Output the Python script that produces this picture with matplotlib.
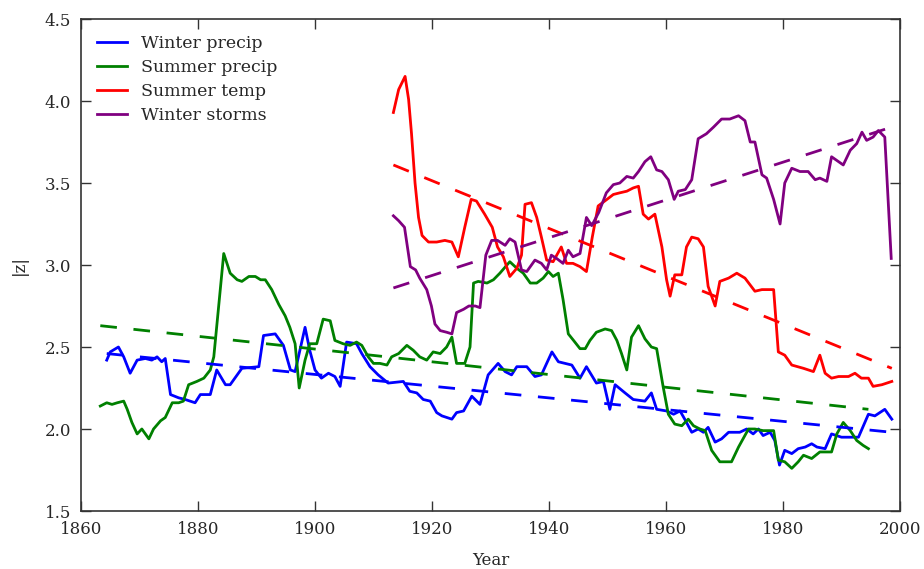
import matplotlib
matplotlib.use("Agg")
import matplotlib.pyplot as plt

# ---- data ----
winter_precip_years = [1864.4, 1865.0, 1866.4, 1867.3, 1868.4, 1869.6, 1871.0, 1872.1, 1873.0, 1873.8,
                       1874.4, 1875.3, 1876.7, 1877.8, 1879.5, 1880.4, 1882.1, 1883.2, 1884.7, 1885.5,
                       1887.5, 1890.4, 1891.2, 1893.2, 1894.6, 1895.8, 1896.6, 1898.3, 1899.1, 1900.0,
                       1901.1, 1902.3, 1903.4, 1904.3, 1905.4, 1907.1, 1908.0, 1909.4, 1910.8, 1912.5,
                       1915.1, 1916.2, 1917.4, 1918.5, 1919.7, 1920.8, 1921.7, 1923.4, 1924.2, 1925.4,
                       1926.8, 1928.2, 1929.6, 1931.3, 1932.5, 1933.6, 1934.5, 1936.2, 1937.6, 1938.7,
                       1940.5, 1941.6, 1943.9, 1945.3, 1946.4, 1948.1, 1949.3, 1950.4, 1951.3, 1953.0,
                       1954.4, 1956.4, 1957.5, 1958.4, 1960.1, 1961.3, 1962.4, 1963.2, 1964.4, 1965.5,
                       1966.4, 1967.2, 1968.4, 1969.5, 1970.7, 1972.6, 1973.8, 1974.9, 1975.8, 1976.6,
                       1977.8, 1978.6, 1979.4, 1980.3, 1981.5, 1982.6, 1983.8, 1984.9, 1985.8, 1987.2,
                       1988.3, 1990.0, 1991.7, 1992.9, 1994.6, 1995.7, 1997.4, 1998.6]
winter_precip = [2.42, 2.47, 2.50, 2.44, 2.34, 2.42, 2.43, 2.42, 2.44, 2.41,
                 2.43, 2.21, 2.19, 2.18, 2.16, 2.21, 2.21, 2.36, 2.27, 2.27,
                 2.37, 2.38, 2.57, 2.58, 2.51, 2.36, 2.35, 2.62, 2.48, 2.36,
                 2.31, 2.34, 2.32, 2.26, 2.53, 2.52, 2.46, 2.38, 2.33, 2.28,
                 2.29, 2.23, 2.22, 2.18, 2.17, 2.10, 2.08, 2.06, 2.10, 2.11,
                 2.20, 2.15, 2.33, 2.40, 2.35, 2.33, 2.38, 2.38, 2.32, 2.33,
                 2.47, 2.41, 2.39, 2.31, 2.38, 2.28, 2.29, 2.12, 2.27, 2.22,
                 2.18, 2.17, 2.22, 2.12, 2.11, 2.09, 2.11, 2.06, 1.98, 2.00,
                 1.98, 2.01, 1.92, 1.94, 1.98, 1.98, 2.00, 1.97, 2.00, 1.96,
                 1.98, 1.93, 1.78, 1.87, 1.85, 1.88, 1.89, 1.91, 1.89, 1.88,
                 1.97, 1.95, 1.95, 1.95, 2.09, 2.08, 2.12, 2.06]

summer_precip_years = [1863.3, 1864.4, 1865.3, 1866.2, 1867.3, 1867.9, 1868.7, 1869.6, 1870.4, 1871.6,
                       1872.4, 1873.6, 1874.4, 1875.6, 1876.7, 1877.5, 1878.4, 1879.8, 1881.0, 1882.1,
                       1882.7, 1884.4, 1885.5, 1886.7, 1887.5, 1888.7, 1889.8, 1890.7, 1891.5, 1892.6,
                       1893.8, 1894.9, 1895.7, 1896.6, 1897.3, 1898.3, 1899.1, 1900.3, 1901.4, 1902.6,
                       1903.4, 1904.8, 1906.0, 1907.1, 1908.0, 1909.1, 1910.0, 1911.1, 1912.3, 1913.1,
                       1914.3, 1915.7, 1916.8, 1917.9, 1919.1, 1920.2, 1921.4, 1922.5, 1923.4, 1924.2,
                       1925.6, 1926.5, 1927.1, 1927.9, 1929.4, 1930.5, 1931.6, 1933.3, 1934.5, 1935.6,
                       1936.8, 1937.9, 1939.0, 1939.9, 1940.7, 1941.6, 1942.4, 1943.3, 1944.2, 1945.3,
                       1946.2, 1947.0, 1948.1, 1949.6, 1950.7, 1951.6, 1952.4, 1953.3, 1954.1, 1955.3,
                       1956.4, 1957.5, 1958.4, 1959.5, 1960.4, 1961.5, 1962.7, 1963.8, 1964.7, 1965.8,
                       1966.7, 1967.8, 1969.2, 1971.2, 1972.4, 1974.1, 1975.2, 1976.6, 1978.4, 1979.2,
                       1980.3, 1981.5, 1982.6, 1983.5, 1984.9, 1986.3, 1988.3, 1989.2, 1990.3, 1991.5,
                       1992.6, 1993.7, 1994.6]
summer_precip = [2.14, 2.16, 2.15, 2.16, 2.17, 2.12, 2.04, 1.97, 2.00, 1.94,
                 2.00, 2.05, 2.07, 2.16, 2.16, 2.17, 2.27, 2.29, 2.31, 2.36,
                 2.44, 3.07, 2.95, 2.91, 2.90, 2.93, 2.93, 2.91, 2.91, 2.85,
                 2.76, 2.69, 2.62, 2.52, 2.25, 2.42, 2.52, 2.52, 2.67, 2.66,
                 2.54, 2.52, 2.51, 2.53, 2.51, 2.44, 2.40, 2.40, 2.39, 2.44,
                 2.46, 2.51, 2.48, 2.44, 2.42, 2.47, 2.46, 2.50, 2.56, 2.40,
                 2.40, 2.50, 2.89, 2.90, 2.89, 2.91, 2.95, 3.02, 2.98, 2.95,
                 2.89, 2.89, 2.92, 2.96, 2.93, 2.95, 2.79, 2.58, 2.54, 2.49,
                 2.49, 2.54, 2.59, 2.61, 2.60, 2.54, 2.46, 2.36, 2.56, 2.63,
                 2.55, 2.50, 2.49, 2.26, 2.09, 2.03, 2.02, 2.06, 2.02, 2.00,
                 1.99, 1.87, 1.80, 1.80, 1.89, 2.00, 2.00, 1.99, 1.99, 1.81,
                 1.80, 1.76, 1.80, 1.84, 1.82, 1.86, 1.86, 1.97, 2.04, 1.99,
                 1.93, 1.90, 1.88]

summer_temp_years = [1913.4, 1914.3, 1915.4, 1916.0, 1916.5, 1917.1, 1917.7, 1918.3, 1919.4, 1920.8,
                     1922.2, 1923.4, 1924.5, 1925.6, 1926.7, 1927.6, 1929.0, 1930.3, 1931.2, 1932.2,
                     1933.3, 1934.5, 1935.3, 1935.9, 1937.0, 1937.9, 1938.7, 1939.6, 1940.7, 1942.1,
                     1943.0, 1944.1, 1945.3, 1946.4, 1947.4, 1948.4, 1949.9, 1951.0, 1952.1, 1953.3,
                     1954.4, 1955.3, 1956.1, 1957.0, 1958.1, 1959.3, 1960.1, 1960.7, 1961.5, 1962.7,
                     1963.5, 1964.4, 1965.5, 1966.4, 1967.2, 1968.4, 1969.2, 1970.7, 1972.1, 1973.5,
                     1975.2, 1976.4, 1978.4, 1979.2, 1980.3, 1981.5, 1983.5, 1985.2, 1986.3, 1987.2,
                     1988.3, 1989.5, 1991.2, 1992.3, 1993.4, 1994.6, 1995.4, 1996.9, 1998.6]
summer_temp = [3.93, 4.07, 4.15, 4.01, 3.80, 3.50, 3.29, 3.18, 3.14, 3.14,
               3.15, 3.14, 3.05, 3.23, 3.40, 3.39, 3.31, 3.23, 3.11, 3.05,
               2.93, 2.98, 3.06, 3.37, 3.38, 3.29, 3.17, 3.03, 3.02, 3.11,
               3.01, 3.01, 2.99, 2.96, 3.17, 3.36, 3.40, 3.43, 3.44, 3.45,
               3.47, 3.48, 3.31, 3.28, 3.31, 3.11, 2.91, 2.81, 2.94, 2.94,
               3.11, 3.17, 3.16, 3.11, 2.87, 2.75, 2.90, 2.92, 2.95, 2.92,
               2.84, 2.85, 2.85, 2.47, 2.45, 2.39, 2.37, 2.35, 2.45, 2.34,
               2.31, 2.32, 2.32, 2.34, 2.31, 2.31, 2.26, 2.27, 2.29]

winter_storms_years = [1913.4, 1914.3, 1915.3, 1916.3, 1917.2, 1917.9, 1919.1, 1919.9, 1920.5, 1921.4,
                       1922.5, 1923.4, 1924.2, 1925.4, 1926.3, 1927.4, 1928.2, 1929.2, 1930.2, 1931.2,
                       1932.5, 1933.3, 1934.2, 1935.3, 1936.2, 1937.6, 1938.7, 1939.6, 1940.4, 1941.3,
                       1942.4, 1943.3, 1944.1, 1945.3, 1946.4, 1947.3, 1948.5, 1949.8, 1951.0, 1952.1,
                       1953.3, 1954.4, 1955.3, 1956.4, 1957.4, 1958.4, 1959.3, 1960.4, 1961.4, 1962.1,
                       1963.3, 1964.4, 1965.5, 1966.9, 1968.1, 1969.5, 1970.9, 1972.4, 1973.5, 1974.4,
                       1975.2, 1976.4, 1977.2, 1978.4, 1979.5, 1980.3, 1981.5, 1982.9, 1984.3, 1985.5,
                       1986.3, 1987.5, 1988.3, 1989.5, 1990.3, 1991.5, 1992.6, 1993.5, 1994.3, 1995.4,
                       1996.3, 1997.4, 1998.5]
winter_storms = [3.30, 3.27, 3.23, 2.99, 2.97, 2.92, 2.85, 2.75, 2.64, 2.60,
                 2.59, 2.58, 2.71, 2.73, 2.75, 2.75, 2.74, 3.06, 3.15, 3.15,
                 3.12, 3.16, 3.14, 2.97, 2.96, 3.03, 3.01, 2.97, 3.06, 3.04,
                 3.01, 3.09, 3.05, 3.07, 3.29, 3.24, 3.32, 3.44, 3.49, 3.50,
                 3.54, 3.53, 3.57, 3.63, 3.66, 3.58, 3.57, 3.52, 3.40, 3.45,
                 3.46, 3.52, 3.77, 3.80, 3.84, 3.89, 3.89, 3.91, 3.88, 3.75,
                 3.75, 3.55, 3.53, 3.40, 3.25, 3.50, 3.59, 3.57, 3.57, 3.52,
                 3.53, 3.51, 3.66, 3.63, 3.61, 3.70, 3.74, 3.81, 3.76, 3.78,
                 3.82, 3.78, 3.04]

# linear trend lines (start/end)
trend_years = {"Winter precip": [1864.4, 1998.6], "Summer precip": [1863.3, 1994.6],
               "Summer temp": [1913.4, 1998.6], "Winter storms": [1913.4, 1998.5]}
trend_values = {"Winter precip": [2.46, 1.98], "Summer precip": [2.63, 2.12],
                "Summer temp": [3.61, 2.37], "Winter storms": [2.86, 3.84]}

series = [
    ("Winter precip", winter_precip_years, winter_precip, "blue"),
    ("Summer precip", summer_precip_years, summer_precip, "green"),
    ("Summer temp", summer_temp_years, summer_temp, "red"),
    ("Winter storms", winter_storms_years, winter_storms, "purple"),
]

plt.rcParams["font.family"] = ["DejaVu Serif"]
plt.rcParams["font.size"] = 12
plt.rcParams["text.color"] = "#262626"
plt.rcParams["axes.labelcolor"] = "#262626"
plt.rcParams["xtick.color"] = "#333333"
plt.rcParams["ytick.color"] = "#333333"

fig = plt.figure(figsize=(9.24, 5.69), dpi=100)
ax = fig.add_axes([81 / 924, 1 - 511 / 569, 819 / 924, 492 / 569])

for name, yrs, vals, color in series:
    ax.plot(yrs, vals, color=color, lw=2, label=name)
for name, yrs, vals, color in series:
    ax.plot(trend_years[name], trend_values[name], color=color, lw=2, linestyle=(0, (6, 6)))

ax.set_xlim(1860, 2000)
ax.set_ylim(1.5, 4.5)
ax.set_xticks(range(1860, 2001, 20))
ax.set_yticks([1.5, 2.0, 2.5, 3.0, 3.5, 4.0, 4.5])
ax.tick_params(direction="in", length=7, width=1, top=True, right=True, pad=7,
               labelsize=12, labelcolor="#262626")
for sp in ax.spines.values():
    sp.set_color("#333333")
    sp.set_linewidth(1.2)

ax.set_xlabel("Year", labelpad=10)
ax.set_ylabel("|z|", labelpad=12)

ax.legend(loc="upper left", frameon=False, handlelength=1.7, fontsize=12.5,
          borderaxespad=0.55, labelspacing=0.4)

fig.savefig("out.png", dpi=100, facecolor="white")
